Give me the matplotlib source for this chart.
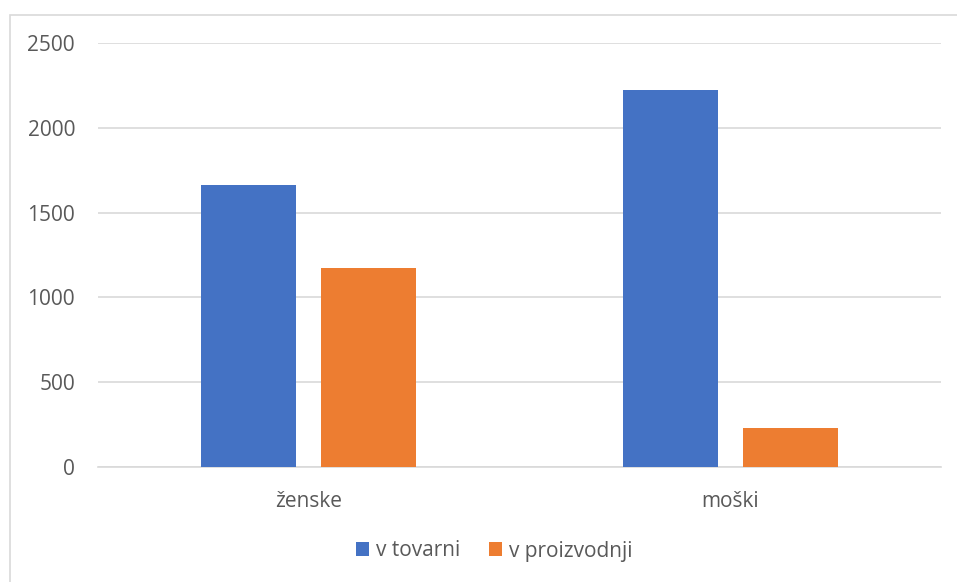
import numpy as np
import matplotlib.pyplot as plt
from matplotlib.patches import Rectangle

categories = ["ženske", "moški"]
series_names = ["v tovarni", "v proizvodnji"]
v_tovarni = [1660, 2225]
v_proizvodnji = [1175, 232]
y_ticks = [0, 500, 1000, 1500, 2000, 2500]

BLUE = "#4472C4"
ORANGE = "#ED7D31"
TEXT = "#595959"
GRID = "#D9D9D9"

W, H = 957, 582
plt.rcParams["font.family"] = ["Open Sans", "DejaVu Sans"]

fig = plt.figure(figsize=(W / 100, H / 100), dpi=100)
ax = fig.add_axes([98 / W, (H - 467) / H, (941 - 98) / W, (467 - 43) / H])

x = np.arange(len(categories))
bar_w = 0.225
off = 0.1425
ax.bar(x - off, v_tovarni, bar_w, color=BLUE, label=series_names[0], zorder=3)
ax.bar(x + off, v_proizvodnji, bar_w, color=ORANGE, label=series_names[1], zorder=3)

ax.set_xlim(-0.5, 1.5)
ax.set_ylim(0, 2500)
ax.set_yticks(y_ticks)
ax.set_xticks(x)
ax.set_xticklabels(categories)
ax.yaxis.grid(True, color=GRID, linewidth=1.2, zorder=0)
ax.set_axisbelow(True)
for side in ["left", "right", "top"]:
    ax.spines[side].set_visible(False)
ax.spines["bottom"].set_color(GRID)
ax.spines["bottom"].set_linewidth(1.2)
ax.tick_params(axis="both", length=0, colors=TEXT, labelsize=15)
ax.tick_params(axis="y", pad=16.5)
ax.tick_params(axis="x", pad=17)

leg = fig.legend(loc="center", bbox_to_anchor=(494 / W, (H - 551) / H), ncol=2,
                 frameon=False, fontsize=15, handlelength=0.65, handleheight=0.65,
                 handletextpad=0.3, columnspacing=1.4)
for t in leg.get_texts():
    t.set_color(TEXT)

# outer chart frame
fig.add_artist(Rectangle((9.5 / W, -0.05), 1.1, 1.05 - 14.5 / H, transform=fig.transFigure,
                         fill=False, edgecolor=GRID, linewidth=1.2))

fig.savefig("out.png", dpi=100)
